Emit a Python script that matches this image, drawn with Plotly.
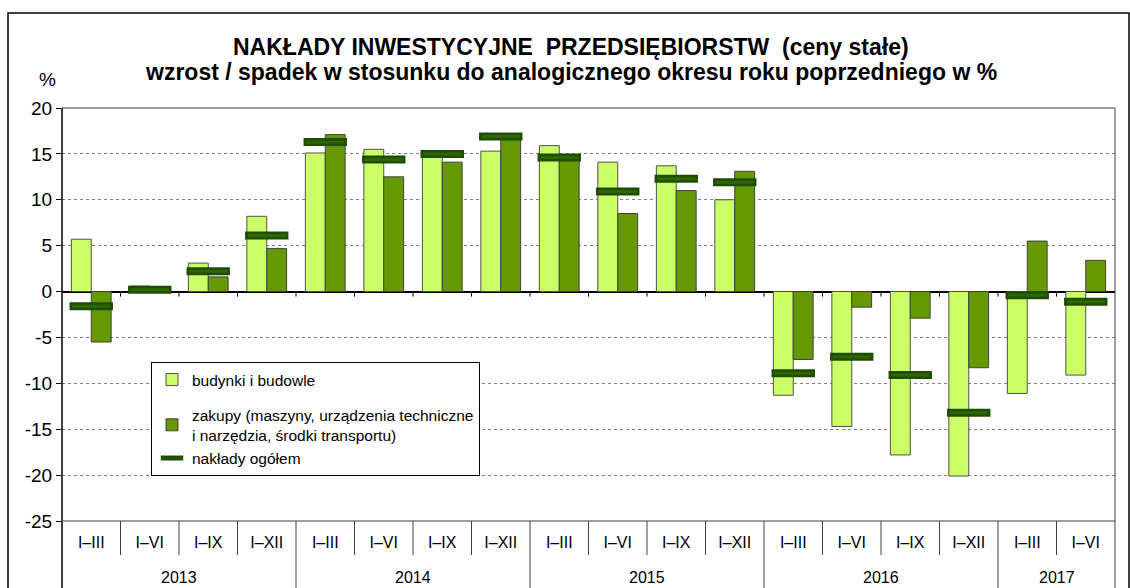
import plotly.graph_objects as go

periods = ["I–III", "I–VI", "I–IX", "I–XII"] * 4 + ["I–III", "I–VI"]
years = ["2013", "2014", "2015", "2016", "2017"]
year_counts = [4, 4, 4, 4, 2]
budynki = [5.7, 0.6, 3.1, 8.2, 15.1, 15.5, 14.8, 15.3, 15.9, 14.1, 13.7, 10.0,
           -11.3, -14.7, -17.8, -20.1, -11.1, -9.1]
zakupy = [-5.5, 0.1, 1.6, 4.7, 17.1, 12.5, 14.1, 16.9, 14.4, 8.5, 11.0, 13.1,
          -7.4, -1.7, -2.9, -8.3, 5.5, 3.4]
ogolem = [-1.6, 0.2, 2.2, 6.1, 16.3, 14.4, 15.0, 16.9, 14.6, 10.9, 12.3, 11.9,
          -8.9, -7.1, -9.1, -13.2, -0.4, -1.1]
y_ticks = [20, 15, 10, 5, 0, -5, -10, -15, -20, -25]
y_tick_labels = ["20", "15", "10", "5", "0", "-5", "-10", "-15", "-20", "-25"]

FONT = "Liberation Sans, Arial, sans-serif"
NARROW = "Liberation Sans Narrow, Arial Narrow, Liberation Sans, Arial, sans-serif"
xs = list(range(len(periods)))

# plot area in pixels
L, R, T, B = 62, 1115, 108, 521
H = B - T
W = R - L


def py(p):
    """pixel y -> paper y"""
    return (B - p) / H


def px(p):
    return (p - L) / W


fig = go.Figure()
fig.add_trace(go.Bar(x=xs, y=budynki, name="budynki i budowle",
                     marker=dict(color="#CCFF66", line=dict(color="#505050", width=1)),
                     legendgroup="a"))
fig.add_trace(go.Bar(x=xs, y=zakupy,
                     name="zakupy (maszyny, urządzenia techniczne<br>i narzędzia, środki transportu)",
                     marker=dict(color="#669900", line=dict(color="#404040", width=1)),
                     legendgroup="b"))
fig.add_trace(go.Scatter(x=xs, y=ogolem, mode="markers", name="nakłady ogółem",
                         marker=dict(symbol="line-ew", size=31,
                                     line=dict(color="#1E4D00", width=8)),
                         legendgroup="b"))
fig.add_trace(go.Scatter(x=xs, y=ogolem, mode="markers", showlegend=False,
                         marker=dict(symbol="line-ew", size=27,
                                     line=dict(color="#2F6600", width=3)),
                         hoverinfo="skip"))

shapes = []
# outer frame
shapes.append(dict(type="rect", xref="paper", yref="paper",
                   x0=px(8), x1=px(1129), y0=py(600), y1=py(13),
                   line=dict(color="black", width=1.5), layer="above"))
# plot border
shapes.append(dict(type="line", xref="paper", yref="paper", x0=0, x1=1, y0=1, y1=1,
                   line=dict(color="#404040", width=1)))
shapes.append(dict(type="line", xref="paper", yref="paper", x0=1, x1=1, y0=py(590), y1=1,
                   line=dict(color="#404040", width=1)))
shapes.append(dict(type="line", xref="paper", yref="paper", x0=0, x1=0, y0=py(590), y1=1,
                   line=dict(color="black", width=1.5)))
shapes.append(dict(type="line", xref="paper", yref="paper", x0=0, x1=1, y0=0, y1=0,
                   line=dict(color="#404040", width=1.2)))
# separators in label area
boundaries = []
acc = 0
for c in year_counts[:-1]:
    acc += c
    boundaries.append(acc - 0.5)
for i in range(len(periods) - 1):
    b = i + 0.5
    y0 = py(590) if b in boundaries else py(555)
    shapes.append(dict(type="line", xref="x", yref="paper", x0=b, x1=b, y0=y0, y1=0,
                       line=dict(color="#404040", width=1)))
    # small tick marks under the zero line
    shapes.append(dict(type="line", xref="x", yref="y", x0=b, x1=b, y0=0, y1=-0.55,
                       line=dict(color="black", width=1)))

annotations = []
acc = 0
for yr, c in zip(years, year_counts):
    annotations.append(dict(text=yr, xref="x", yref="paper", x=acc + (c - 1) / 2,
                            y=py(577), showarrow=False, yanchor="middle",
                            font=dict(family=NARROW, size=16, color="black")))
    acc += c
annotations.append(dict(
    text="<b>NAKŁADY INWESTYCYJNE  PRZEDSIĘBIORSTW  (ceny stałe)</b>",
    xref="paper", yref="paper", x=px(571), y=py(47), showarrow=False,
    xanchor="center", yanchor="middle",
    font=dict(family=FONT, size=23, color="black")))
annotations.append(dict(
    text="<b>wzrost / spadek w stosunku do analogicznego okresu roku poprzedniego w %</b>",
    xref="paper", yref="paper", x=px(571), y=py(72), showarrow=False,
    xanchor="center", yanchor="middle",
    font=dict(family=FONT, size=23, color="black")))
annotations.append(dict(text="%", xref="paper", yref="paper", x=px(47), y=py(80),
                        showarrow=False, xanchor="center", yanchor="middle",
                        font=dict(family=FONT, size=19, color="black")))

fig.update_layout(
    width=1130, height=588,
    margin=dict(l=L, r=1130 - R, t=T, b=588 - B, autoexpand=False),
    paper_bgcolor="white", plot_bgcolor="white",
    barmode="group", bargap=0.32, bargroupgap=0,
    showlegend=True,
    legend=dict(x=px(151), y=py(362), xanchor="left", yanchor="top",
                bgcolor="white", bordercolor="black", borderwidth=1,
                font=dict(family=FONT, size=15.5, color="black"),
                traceorder="grouped", tracegroupgap=12,
                itemwidth=30),
    xaxis=dict(range=[-0.5, len(periods) - 0.5], tickmode="array", tickvals=xs,
               ticktext=periods, showgrid=False, zeroline=False, showline=False,
               ticks="", ticklabelstandoff=10, automargin=False,
               tickfont=dict(family=NARROW, size=16, color="black")),
    yaxis=dict(range=[-25, 20], tickmode="array", tickvals=y_ticks, ticktext=y_tick_labels,
               showgrid=True, gridcolor="#808080", griddash="dot", gridwidth=1,
               zeroline=True, zerolinecolor="black", zerolinewidth=1.5,
               showline=False, ticks="outside", ticklen=5, tickcolor="black",
               automargin=False,
               tickfont=dict(family=FONT, size=19, color="black")),
    shapes=shapes,
    annotations=annotations,
    font=dict(family=FONT, color="black"),
)

fig.write_html("out.html", config={"displayModeBar": False},
               post_script="document.body.style.margin='0';")
